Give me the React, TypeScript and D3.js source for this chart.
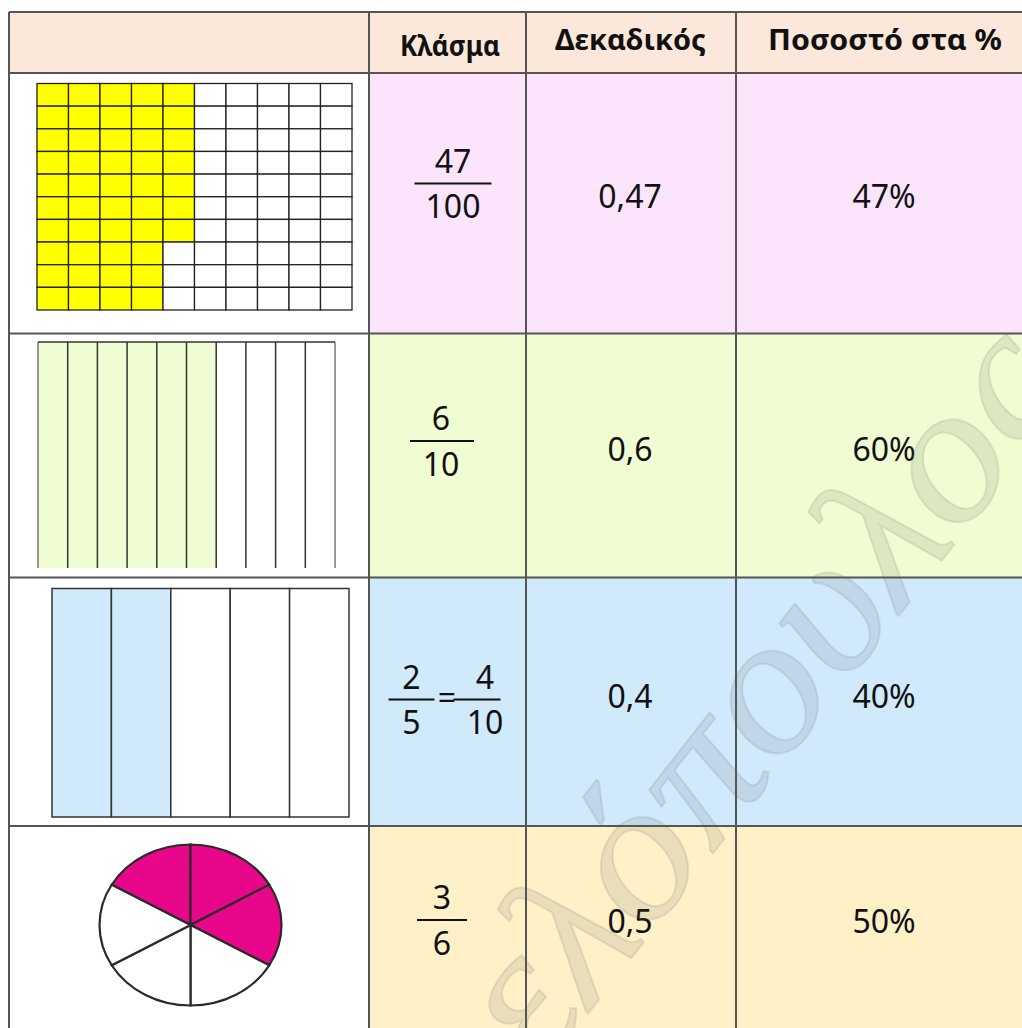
import React from "react";
import * as d3 from "d3";

// ---- data ----
const headers = ["Κλάσμα", "Δεκαδικός", "Ποσοστό στα %"];
const numerators = [["47"], ["6"], ["2", "4"], ["3"]];
const denominators = [["100"], ["10"], ["5", "10"], ["6"]];
const decimals = ["0,47", "0,6", "0,4", "0,5"];
const percents = ["47%", "60%", "40%", "50%"];
const gridShaded = 47; // of 100
const stripeShaded = 6; // of 10
const barShaded = 2; // of 5
const pieShaded = 3; // of 6
const watermark = "ελόπουλος";

// ---- layout ----
const W = 1022;
const H = 1028;
const colX = [9, 369, 526, 736, 1040];
const rowY = [12, 73, 333.5, 577.5, 826, 1060];
const rowBg = ["#fce4fd", "#f0fdd2", "#d0eafc", "#fff0c8"];
const headerBg = "#fce8da";
const lineColor = "#555";
const FONT = "'Noto Sans', 'DejaVu Sans', sans-serif";

export default function App() {
  // 10x10 grid
  const gx = d3.scaleLinear().domain([0, 10]).range([37, 352]);
  const gy = d3.scaleLinear().domain([0, 10]).range([83.5, 310]);
  const gridCells = d3.range(100).map((i) => ({ c: Math.floor(i / 10), r: i % 10, on: i < gridShaded }));

  // stripes
  const sx = d3.scaleLinear().domain([0, 10]).range([38, 335]);
  const sTop = 342, sBot = 568;

  // bars
  const bx = d3.scaleLinear().domain([0, 5]).range([52, 349]);
  const bTop = 588.5, bBot = 817;

  // pie
  const pieGen = d3.pie<number>().sort(null).startAngle(-Math.PI / 3).endAngle(2 * Math.PI - Math.PI / 3);
  const slices = pieGen(d3.range(6).map(() => 1));
  const arcGen = d3.arc<d3.PieArcDatum<number>>().innerRadius(0).outerRadius(1);
  const pcx = 190.5, pcy = 925, prx = 91, pry = 80.5;

  const decCx = 630, pctCx = 884;
  const textCy = [197, 450, 697, 922];
  const fracLineY = [183.5, 441, 699.5, 920];
  const fs = 32;
  const capH = fs * 0.714;

  const fracs = [
    [{ cx: 453, w: 77 }],
    [{ cx: 442, w: 64 }],
    [{ cx: 411.5, w: 46 }, { cx: 477, w: 47 }],
    [{ cx: 442, w: 50 }],
  ];
  const fracNumCx = [[453], [441], [411.5, 485], [442]];

  // watermark line
  const wmX = 540, wmY = 1075;
  const wmAngle = -52;

  return (
    <svg width={W} height={H} style={{ position: "fixed", left: 0, top: 0, background: "#fff" }} fontFamily={FONT}>
      {/* backgrounds */}
      <rect x={colX[0]} y={rowY[0]} width={W - colX[0]} height={rowY[1] - rowY[0]} fill={headerBg} />
      {rowBg.map((c, i) => (
        <rect key={i} x={colX[1]} y={rowY[i + 1]} width={W - colX[1]} height={rowY[i + 2] - rowY[i + 1]} fill={c} />
      ))}

      {/* grid */}
      <g>
        {gridCells.map((d, i) => (
          <rect key={i} x={gx(d.c)} y={gy(d.r)} width={gx(1) - gx(0)} height={gy(1) - gy(0)}
            fill={d.on ? "#ffff00" : "#fff"} stroke="#222" strokeWidth={1.3} />
        ))}
      </g>

      {/* stripes */}
      <g>
        {d3.range(10).map((i) => (
          <rect key={i} x={sx(i)} y={sTop} width={sx(1) - sx(0)} height={sBot - sTop}
            fill={i < stripeShaded ? "#f0fdd2" : "#fff"} />
        ))}
        {d3.range(11).map((i) => (
          <line key={i} x1={sx(i)} x2={sx(i)} y1={sTop} y2={sBot} stroke={i === 0 || i === 10 ? "#777" : "#333"} strokeWidth={1.5} />
        ))}
        <line x1={sx(0)} x2={sx(10)} y1={sTop} y2={sTop} stroke="#333" strokeWidth={1.5} />
      </g>

      {/* bars */}
      <g>
        {d3.range(5).map((i) => (
          <rect key={i} x={bx(i)} y={bTop} width={bx(1) - bx(0)} height={bBot - bTop}
            fill={i < barShaded ? "#d0eafc" : "#fff"} stroke="#333" strokeWidth={1.5} />
        ))}
      </g>

      {/* pie */}
      <g transform={`translate(${pcx},${pcy}) scale(${prx},${pry})`}>
        {slices.map((s, i) => (
          <path key={i} d={arcGen(s) || ""} fill={i < pieShaded ? "#e8078a" : "#fff"}
            stroke="#2a2a2a" strokeWidth={2.2} vectorEffect="non-scaling-stroke" />
        ))}
      </g>

      {/* header text */}
      <text x={400} y={56} textLength={100} lengthAdjust="spacingAndGlyphs" fontSize={28} fontWeight="bold" fill="#111">{headers[0]}</text>
      <text x={555} y={50} textLength={151} lengthAdjust="spacingAndGlyphs" fontSize={28} fontWeight="bold" fill="#111">{headers[1]}</text>
      <text x={768} y={50} textLength={234} lengthAdjust="spacingAndGlyphs" fontSize={28} fontWeight="bold" fill="#111">{headers[2]}</text>

      {/* fractions */}
      {fracs.map((parts, r) => (
        <g key={r}>
          {parts.map((p, k) => (
            <g key={k}>
              <line x1={p.cx - p.w / 2} x2={p.cx + p.w / 2} y1={fracLineY[r]} y2={fracLineY[r]} stroke="#111" strokeWidth={2} />
              <text x={fracNumCx[r][k]} y={fracLineY[r] - 11} textAnchor="middle" fontSize={fs} fill="#111">{numerators[r][k]}</text>
              <text x={fracNumCx[r][k]} y={fracLineY[r] + 12 + capH} textAnchor="middle" fontSize={fs} fill="#111">{denominators[r][k]}</text>
            </g>
          ))}
          {parts.length > 1 && (
            <text x={447} y={fracLineY[r] + capH / 2 - 2} textAnchor="middle" fontSize={fs} fill="#111">=</text>
          )}
        </g>
      ))}

      {/* decimals & percents */}
      {decimals.map((d, i) => (
        <text key={"d" + i} x={decCx} y={textCy[i] + capH / 2} textAnchor="middle" fontSize={fs} fill="#111">{d}</text>
      ))}
      {percents.map((d, i) => (
        <text key={"p" + i} x={pctCx} y={textCy[i] + capH / 2} textAnchor="middle" fontSize={fs} fill="#111">{d}</text>
      ))}

      {/* watermark */}
      <text transform={`translate(${wmX},${wmY}) rotate(${wmAngle})`} fontFamily="'Liberation Serif', 'DejaVu Serif', serif"
        fontStyle="italic" fontSize={195} textLength={870} lengthAdjust="spacingAndGlyphs" fill="#5a5a5a" fillOpacity={0.13}
        stroke="#5a5a5a" strokeOpacity={0.13} strokeWidth={2}>{watermark}</text>

      {/* table lines */}
      <g stroke={lineColor} strokeWidth={2}>
        {rowY.slice(0, 5).map((y, i) => (
          <line key={"h" + i} x1={colX[0]} x2={W} y1={y} y2={y} />
        ))}
        <line x1={colX[0]} x2={colX[0]} y1={rowY[0]} y2={H} />
        {colX.slice(1, 4).map((x, i) => (
          <line key={"v" + i} x1={x} x2={x} y1={rowY[0]} y2={H} />
        ))}
      </g>
    </svg>
  );
}
